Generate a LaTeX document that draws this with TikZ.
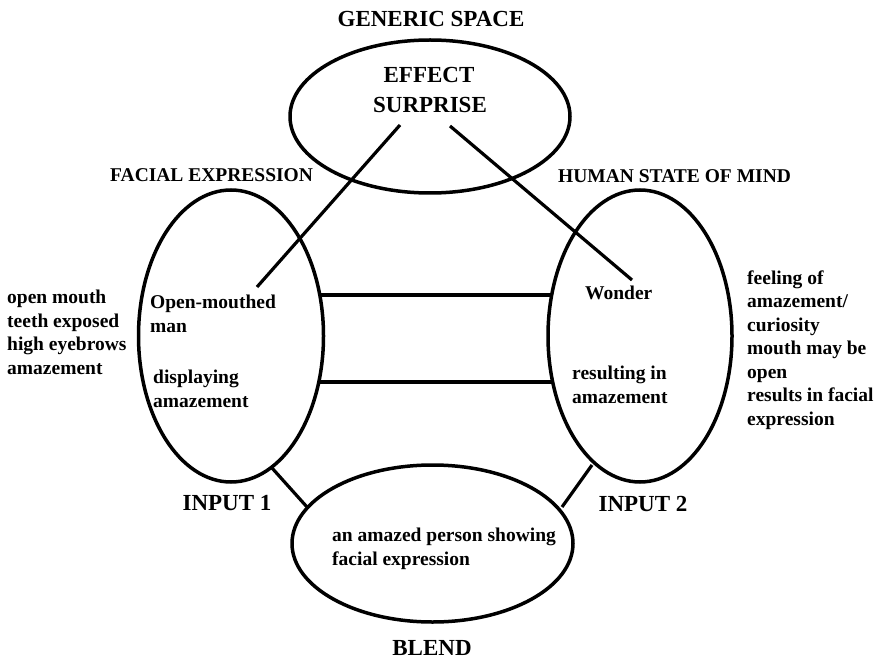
\documentclass[tikz,border=0pt]{standalone}
\usepackage{fontspec}
\setmainfont{Liberation Serif}
\usetikzlibrary{shapes.geometric}
\tikzset{
  spacebox/.style={draw, ellipse, line width=3.5pt, inner sep=0pt},
  link/.style={line width=3.2pt},
  bigtitle/.style={font=\bfseries\fontsize{23}{27}\selectfont, inner sep=0pt, anchor=base},
  smalltitle/.style={font=\bfseries\fontsize{19.5}{23.5}\selectfont, inner sep=0pt, anchor=base west},
  txt/.style={font=\bfseries\fontsize{19.5}{23.5}\selectfont, inner sep=0pt, align=left, anchor=base west},
}
\begin{document}
\begin{tikzpicture}[x=1pt,y=-1pt]
\useasboundingbox (0,0) rectangle (888,660);
% spaces
\node[spacebox, minimum width=280pt, minimum height=153pt] (gen) at (430,116.5) {};
\node[spacebox, minimum width=185pt, minimum height=292pt] (in1) at (231,336) {};
\node[spacebox, minimum width=184pt, minimum height=292pt] (in2) at (640,336) {};
\node[spacebox, minimum width=281pt, minimum height=157pt] (bl) at (432.5,543.5) {};
% titles
\node[bigtitle] (tgen) at (431,27) {GENERIC SPACE};
\node[bigtitle] (teff) at (429,83) {EFFECT};
\node[bigtitle] (tsur) at (430,113) {SURPRISE};
\node[smalltitle] (tfac) at (110,182) {FACIAL EXPRESSION};
\node[smalltitle] (thum) at (558,183) {HUMAN STATE OF MIND};
\node[bigtitle] (tin1) at (227,510) {INPUT 1};
\node[bigtitle] (tin2) at (643,511) {INPUT 2};
\node[bigtitle] (tbl) at (432,655) {BLEND};
% texts (anchor = baseline of the last line)
\node[txt] (lft) at (7,374) {open mouth\\teeth exposed\\high eyebrows\\amazement};
\node[txt] (om) at (150,332) {Open-mouthed\\man};
\node[txt] (disp) at (153,407) {displaying\\amazement};
\node[txt] (wond) at (585,299) {Wonder};
\node[txt] (res) at (572,403) {resulting in\\amazement};
\node[txt] (rgt) at (747,425) {feeling of\\amazement/\\curiosity\\mouth may be\\open\\results in facial\\expression};
\node[txt] (blt) at (332,565) {an amazed person showing\\facial expression};
% connector end points
\coordinate (g1) at (400,125);
\coordinate (l1) at (257,287);
\coordinate (g2) at (450,126);
\coordinate (r1) at (632,280);
\coordinate (h1a) at (320,295);
\coordinate (h1b) at (552,295);
\coordinate (h2a) at (319,382);
\coordinate (h2b) at (553,382);
\coordinate (b1a) at (272,468);
\coordinate (b1b) at (307,507);
\coordinate (b2a) at (592,465);
\coordinate (b2b) at (562,507);
% connectors
\draw[link] (g1) -- (l1);
\draw[link] (g2) -- (r1);
\draw[link] (h1a) -- (h1b);
\draw[link] (h2a) -- (h2b);
\draw[link] (b1a) -- (b1b);
\draw[link] (b2a) -- (b2b);
\end{tikzpicture}
\end{document}
